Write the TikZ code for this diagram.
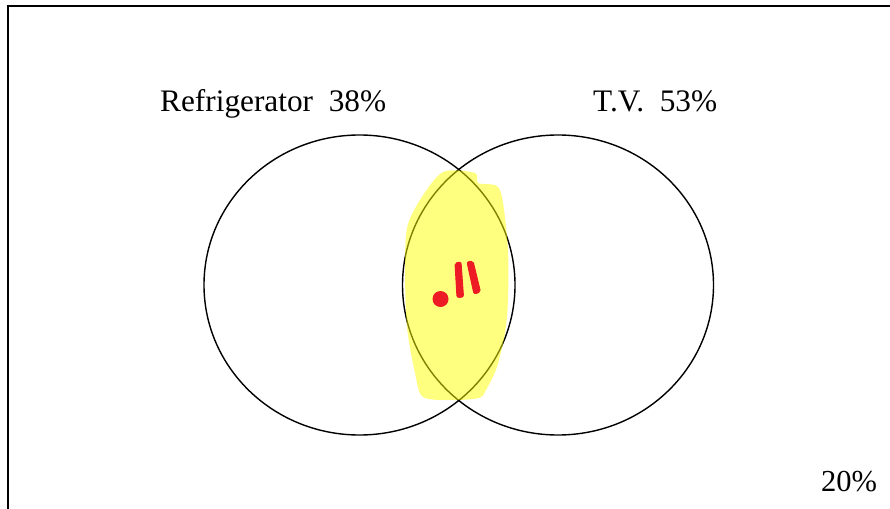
\documentclass[tikz,border=0pt]{standalone}
\usepackage{fontspec}
\setmainfont{Liberation Serif}
\usetikzlibrary{shapes.geometric}
\definecolor{hlyellow}{RGB}{255,255,0}
\definecolor{penred}{RGB}{237,28,36}
\tikzset{
  setcircle/.style={ellipse, draw=black, line width=1.4pt, inner sep=0pt,
    minimum width=311pt, minimum height=300pt},
  lbl/.style={font=\fontsize{31.3}{36}\selectfont, inner sep=0pt, anchor=base west},
  cornerlbl/.style={font=\fontsize{30.5}{36}\selectfont, inner sep=0pt, anchor=base west},
  frame/.style={draw=black, line width=2pt},
  highlight/.style={fill=hlyellow, fill opacity=0.5, draw=none},
  pen/.style={fill=penred, draw=penred, line width=1pt, rounded corners=2pt}
}
\begin{document}
\begin{tikzpicture}[x=1pt,y=-1pt]
\useasboundingbox (0,0) rectangle (890,508);
\fill[white] (0,0) rectangle (890,508);
% frame (right and bottom edges lie outside the picture)
\draw[frame] (8,510) -- (8,6) -- (892,6);
% sets
\node[setcircle] (fridge) at (359.5,285) {};
\node[setcircle] (tv) at (558,285) {};
% labels
\node[lbl] (fridgelbl) at (160,111) {Refrigerator\ \ 38\%};
\node[lbl] (tvlbl) at (593,111) {T.V.\ \ 53\%};
\node[cornerlbl] (none) at (821,491) {20\%};
% yellow highlight over the intersection
\path[highlight] plot[smooth cycle, tension=0.5] coordinates {
  (443,172) (475,173) (478,183) (497,186) (503,203) (508,250) (508,300)
  (505,333) (497,367) (486,390) (479,398) (453,400) (423,397) (415,373)
  (407,327) (405,270) (407,228) (420,200)};
% red handwritten .11
\fill[penred] (440.5,299) circle (8);
\path[pen] (455,263) -- (461,262) -- (463.5,297) -- (457,297.5) -- cycle;
\path[pen] (467,262) -- (473,261) -- (480.5,292) -- (474,294) -- cycle;
\end{tikzpicture}
\end{document}
